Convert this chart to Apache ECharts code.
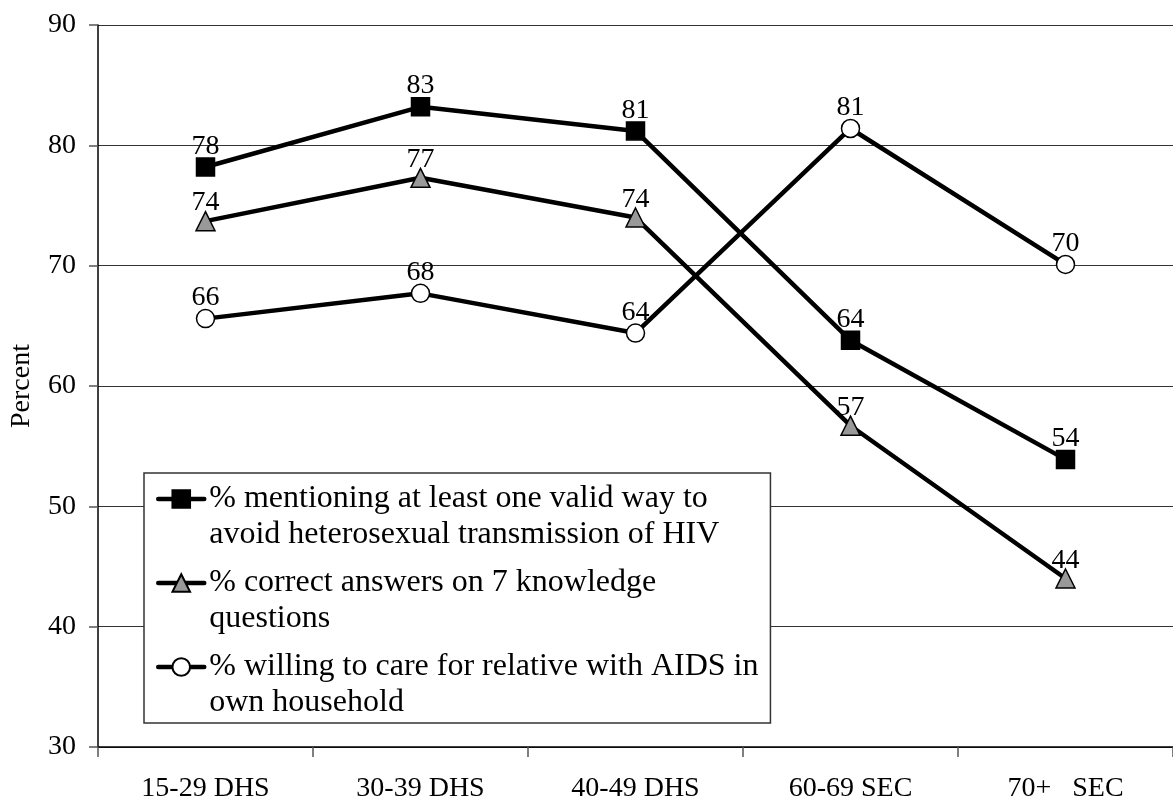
<!DOCTYPE html>
<html>
<head>
<meta charset="utf-8">
<script src="https://cdn.jsdelivr.net/npm/echarts@6/dist/echarts.min.js"></script>
<style>
  html, body { margin: 0; padding: 0; background: #fff; }
  #chart { width: 1173px; height: 803px; }
</style>
</head>
<body>
<div id="chart"></div>
<script>
// categories and values
const categories = ['15-29 DHS', '30-39 DHS', '40-49 DHS', '60-69 SEC', '70+   SEC'];
const seriesNames = [
  '% mentioning at least one valid way to avoid heterosexual transmission of HIV',
  '% correct answers on 7 knowledge questions',
  '% willing to care for relative with AIDS in own household'
];
// how the legend wraps each name onto two lines
const legendLines = [
  ['% mentioning at least one valid way to', 'avoid heterosexual transmission of HIV'],
  ['% correct answers on 7 knowledge', 'questions'],
  ['% willing to care for relative with AIDS in', 'own household']
];
const validWay = [78.2, 83.2, 81.2, 63.8, 53.9];
const correctAnswers = [73.7, 77.3, 74.0, 56.7, 44.0];
const willingCare = [65.6, 67.7, 64.4, 81.4, 70.1];
const yTicks = [30, 40, 50, 60, 70, 80, 90];

const font = 'Liberation Serif, Times New Roman, serif';
let myChart = echarts.init(document.getElementById('chart'));

function makeSeries(name, data, symbol, fill, labelDistance) {
  return {
    name: name,
    type: 'line',
    data: data,
    symbol: symbol,
    symbolSize: symbol === 'triangle' ? 19 : 18,
    lineStyle: { color: '#000', width: 4.5 },
    itemStyle: { color: fill, borderColor: '#000', borderWidth: 1.5 },
    label: {
      show: true,
      position: 'top',
      distance: labelDistance,
      fontFamily: font,
      fontSize: 28,
      color: '#000',
      formatter: (p) => Math.round(p.value)
    },
    z: 3
  };
}

let option = {
  animation: false,
  backgroundColor: '#fff',
  grid: { left: 94, top: 25, right: -13, bottom: 55.5 },
  xAxis: {
    type: 'category',
    data: categories,
    boundaryGap: true,
    axisLine: { lineStyle: { color: '#000', width: 1.5 } },
    axisTick: { show: true, length: 10, inside: false, lineStyle: { color: '#555', width: 1.5 } },
    axisLabel: { fontFamily: font, fontSize: 28, color: '#000', margin: 28 }
  },
  yAxis: {
    type: 'value',
    min: yTicks[0],
    max: yTicks[yTicks.length - 1],
    interval: 10,
    name: 'Percent',
    nameLocation: 'middle',
    nameGap: 62,
    nameTextStyle: { fontFamily: font, fontSize: 28, color: '#000' },
    axisLine: { show: true, lineStyle: { color: '#000', width: 1.5 } },
    axisTick: { show: true, length: 9, lineStyle: { color: '#555', width: 1.5 } },
    axisLabel: { fontFamily: font, fontSize: 28, color: '#000', margin: 22 },
    splitLine: { lineStyle: { color: '#333', width: 1.2 } }
  },
  legend: {
    orient: 'vertical',
    left: 144,
    top: 473,
    itemWidth: 46,
    itemHeight: 22,
    itemGap: -24,
    padding: [-28, 12, 2, 12],
    backgroundColor: '#fff',
    borderColor: '#333',
    borderWidth: 1.5,
    lineStyle: { width: 4.5, color: '#000', cap: 'round' },
    // blank first line so the icon sits on the first text line
    formatter: (name) => {
      const lines = legendLines[seriesNames.indexOf(name)];
      return ' \n' + lines[0] + '\n' + lines[1];
    },
    textStyle: {
      fontFamily: font,
      fontSize: 32,
      color: '#000',
      lineHeight: 36
    },
    data: seriesNames
  },
  series: [
    makeSeries(seriesNames[0], validWay, 'rect', '#000', -3),
    makeSeries(seriesNames[1], correctAnswers, 'triangle', '#999', -6),
    makeSeries(seriesNames[2], willingCare, 'circle', '#fff', -3)
  ]
};
option && myChart.setOption(option);
</script>
</body>
</html>
